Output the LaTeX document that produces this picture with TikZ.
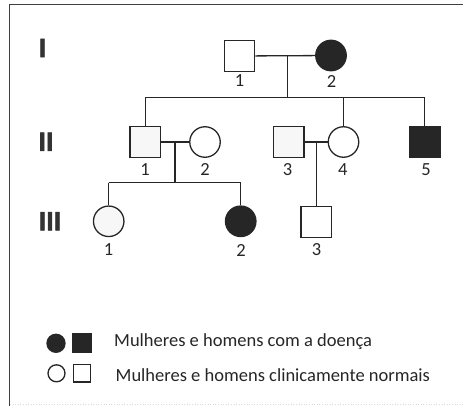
\documentclass[tikz,border=0pt]{standalone}
\usepackage{fontspec}
\setmainfont{Carlito}
\begin{document}
\begin{tikzpicture}[x=1pt,y=-1pt,
  ln/.style={draw=black!85, line width=1.3pt},
  male/.style={draw=black!85, line width=1.3pt, fill=white, minimum size=30.5pt, inner sep=0pt, rectangle},
  female/.style={draw=black!85, line width=1.3pt, fill=white, minimum size=30.5pt, inner sep=0pt, circle},
  aff/.style={fill=black!85},
  dot/.style={fill=black!3},
  num/.style={font=\fontsize{18.5}{18.5}\selectfont, inner sep=0pt, text=black!85},
  gen/.style={font=\fontsize{28}{28}\selectfont\bfseries\addfontfeature{FakeBold=2.5}, inner sep=0pt, text=black!80},
  leg/.style={font=\fontsize{18.5}{18.5}\selectfont, inner sep=0pt, anchor=west, text=black!85},
  lsym/.style={draw=black!85, line width=1.3pt, inner sep=0pt}
]
\useasboundingbox (0,0) rectangle (463,406);
% frame
\draw[draw=black!75, line width=1.5pt] (9.5,406) -- (9.5,4.5) -- (463,4.5);
\draw[draw=black!15, line width=0.6pt, dotted] (10,404.5) -- (463,404.5);

% generation labels
\node[gen] (gI) at (42.5,48) {I};
\node[gen] (gII) at (46,141.7) {II};
\node[gen] (gIII) at (50,221.3) {III};

% generation I
\node[male] (i1) at (239.5,56) {};
\node[female, aff] (i2) at (331,55.5) {};
\node[num] (li1) at (239.5,81) {1};
\node[num] (li2) at (331.5,81) {2};
\coordinate (ci) at (287.3,55.7);
\coordinate (di) at (287.3,97.3);
\draw[ln] (i1) -- (i2);
\draw[ln] (ci) -- (di);

% generation II
\node[male, dot] (ii1) at (145.3,142) {};
\node[female] (ii2) at (205,142) {};
\node[male, dot] (ii3) at (288.7,142) {};
\node[female] (ii4) at (343.5,142) {};
\node[male, aff] (ii5) at (424.7,142) {};
\node[num] (lii1) at (145,169.5) {1};
\node[num] (lii2) at (205,169.5) {2};
\node[num] (lii3) at (287.5,169.5) {3};
\node[num] (lii4) at (342.7,169.5) {4};
\node[num] (lii5) at (426,169.5) {5};
\draw[ln] (ii1.north |- di) -- (ii5.north |- di);
\draw[ln] (ii1.north |- di) -- (ii1.north);
\draw[ln] (ii4.north |- di) -- (ii4.north);
\draw[ln] (ii5.north |- di) -- (ii5.north);
\draw[ln] (ii1) -- (ii2);
\draw[ln] (ii3) -- (ii4);
\coordinate (cii) at (175,142);
\coordinate (dii) at (175,182.7);
\draw[ln] (cii) -- (dii);
\coordinate (cii2) at (316.3,142);

% generation III
\node[female, dot] (iii1) at (108.7,221.3) {};
\node[female, aff] (iii2) at (240.7,221.3) {};
\node[male] (iii3) at (316.3,222) {};
\node[num] (liii1) at (108.5,250) {1};
\node[num] (liii2) at (241,250) {2};
\node[num] (liii3) at (316.5,250) {3};
\draw[ln] (iii1.north |- dii) -- (iii2.north |- dii);
\draw[ln] (iii1.north |- dii) -- (iii1.north);
\draw[ln] (iii2.north |- dii) -- (iii2.north);
\draw[ln] (cii2) -- (iii3.north);

% legend
\node[lsym, circle, minimum size=18pt, fill=black!85] (lc1) at (56,343.3) {};
\node[lsym, rectangle, minimum size=18.5pt, fill=black!85] (ls1) at (82,343.3) {};
\node[lsym, circle, minimum size=17pt, fill=white] (lc2) at (56.5,373.3) {};
\node[lsym, rectangle, minimum size=17.5pt, fill=white] (ls2) at (82,373.3) {};
\node[leg] (t1) at (114,341.5) {Mulheres e homens com a doença};
\node[leg] (t2) at (115.5,375) {Mulheres e homens clinicamente normais};
\end{tikzpicture}
\end{document}
